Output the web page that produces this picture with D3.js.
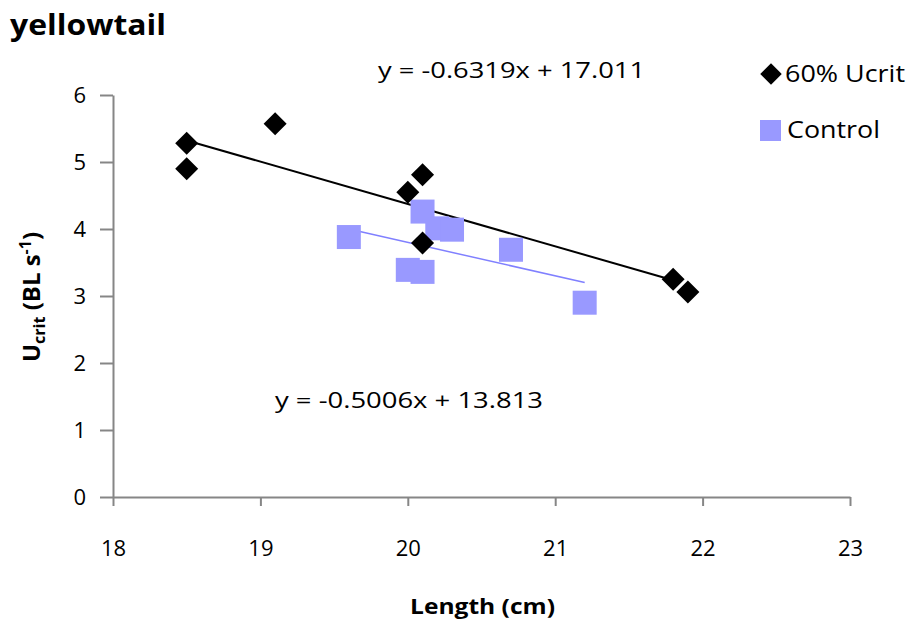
<!DOCTYPE html>
<html>
<head>
<meta charset="utf-8">
<script src="https://cdn.jsdelivr.net/npm/d3@7/dist/d3.min.js"></script>
<style>
  body { margin: 0; background: #fff; }
  text { font-family: "Open Sans", Lato, sans-serif; fill: #000; }
</style>
</head>
<body>
<div id="chart"></div>
<script>
// data
const ucritLength = [18.5, 18.5, 19.1, 20.0, 20.1, 20.1, 21.8, 21.9]
const ucritValue = [5.28, 4.90, 5.57, 4.55, 4.81, 3.79, 3.25, 3.06]
const controlLength = [19.6, 20.0, 20.1, 20.1, 20.2, 20.3, 20.7, 21.2]
const controlValue = [3.88, 3.39, 3.36, 4.26, 4.01, 3.99, 3.69, 2.90]
const ucritFit = [-0.6319, 17.011]
const controlFit = [-0.5006, 13.813]
const xTicks = [18, 19, 20, 21, 22, 23]
const yTicks = [0, 1, 2, 3, 4, 5, 6]

const width = 910,
  height = 626

const svg = d3.select('#chart')
  .append('svg')
  .attr('width', width)
  .attr('height', height)

const x = d3.scaleLinear().domain([18, 23]).range([113, 850])
const y = d3.scaleLinear().domain([0, 6]).range([497, 95])

const axisColor = '#868686'

// axes
const gx = svg.append('g')
  .attr('transform', `translate(0, ${y(0)})`)
  .call(d3.axisBottom(x).tickValues(xTicks).tickSize(9).tickSizeOuter(0).tickFormat(d3.format('d')))
const gy = svg.append('g')
  .attr('transform', `translate(${x(18)}, 0)`)
  .call(d3.axisLeft(y).tickValues(yTicks).tickSize(13).tickSizeOuter(0).tickFormat(d3.format('d')))

;[gx, gy].forEach(g => {
  g.select('.domain').attr('stroke', axisColor).attr('stroke-width', 2)
  g.selectAll('.tick line').attr('stroke', axisColor).attr('stroke-width', 2)
  g.selectAll('.tick text').attr('font-size', 22).attr('font-family', '"Open Sans", sans-serif').attr('fill', '#000')
})
gx.selectAll('.tick text').attr('y', 0).attr('dy', 59)
gy.selectAll('.tick text').attr('x', -27).attr('dy', '0.36em')

// trend lines (drawn across each series' length range)
const drawFit = (xs, fit, color, w) => {
  const ext = d3.extent(xs)
  svg.append('line')
    .attr('x1', x(ext[0])).attr('y1', y(fit[0] * ext[0] + fit[1]))
    .attr('x2', x(ext[1])).attr('y2', y(fit[0] * ext[1] + fit[1]))
    .attr('stroke', color)
    .attr('stroke-width', w)
}
drawFit(ucritLength.slice(0, 7), ucritFit, '#000', 2)
drawFit(controlLength, controlFit, '#8080ff', 1.5)

// control squares
const sq = 24
svg.selectAll('rect.control')
  .data(controlLength)
  .enter()
  .append('rect')
  .attr('class', 'control')
  .attr('x', d => x(d) - sq / 2)
  .attr('y', (d, i) => y(controlValue[i]) - sq / 2)
  .attr('width', sq)
  .attr('height', sq)
  .attr('fill', '#9999ff')

// 60% Ucrit diamonds
const diamond = d3.symbol().type(d3.symbolSquare).size(265)
svg.selectAll('path.ucrit')
  .data(ucritLength)
  .enter()
  .append('path')
  .attr('class', 'ucrit')
  .attr('d', diamond)
  .attr('transform', (d, i) => `translate(${x(d)}, ${y(ucritValue[i])}) rotate(45)`)
  .attr('fill', '#000')

// text stretched to the reference width
const label = (tx, ty, size, len, str, bold) => {
  const t = svg.append('text')
    .attr('x', tx).attr('y', ty)
    .attr('font-size', size)
    .attr('textLength', len)
    .attr('lengthAdjust', 'spacingAndGlyphs')
    .text(str)
  if (bold) t.attr('font-weight', 'bold')
  return t
}

label(10, 35, 29, 156, 'yellowtail', true)
label(378, 78, 22, 267, 'y = -0.6319x + 17.011')
label(275, 408, 22, 268, 'y = -0.5006x + 13.813')

// legend
svg.append('path')
  .attr('d', d3.symbol().type(d3.symbolSquare).size(230))
  .attr('transform', 'translate(771, 74) rotate(45)')
label(785, 82, 23, 120, '60% Ucrit')
svg.append('rect')
  .attr('x', 760).attr('y', 120).attr('width', 21).attr('height', 21)
  .attr('fill', '#9999ff')
label(787, 138, 23, 93, 'Control')

// axis titles
label(410, 614, 22, 145, 'Length (cm)', true)

const yl = svg.append('text')
  .attr('transform', 'translate(40, 297) rotate(-90)')
  .attr('text-anchor', 'middle')
  .attr('font-size', 24).attr('font-weight', 'bold')
yl.append('tspan').text('U')
yl.append('tspan').attr('font-size', 16).attr('dy', 5).text('crit')
yl.append('tspan').attr('dy', -5).text(' (BL s')
yl.append('tspan').attr('font-size', 16).attr('dy', -9).text('-1')
yl.append('tspan').attr('dy', 9).text(')')
</script>
</body>
</html>
